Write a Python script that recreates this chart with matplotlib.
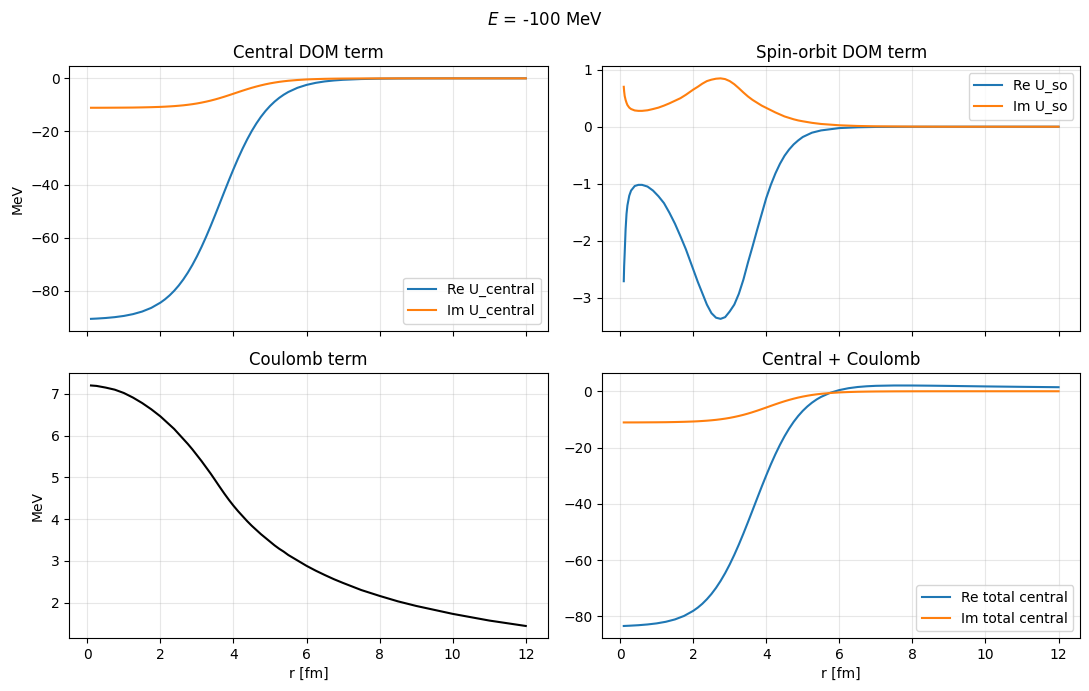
import matplotlib
matplotlib.use("Agg")
import matplotlib.pyplot as plt

# radial grid for central / Coulomb curves (fm)
r_c = [0.1, 0.25, 0.5, 0.75, 1.0, 1.25, 1.5, 1.75, 2.0, 2.125, 2.25, 2.375, 2.5, 2.625,
       2.75, 2.875, 3.0, 3.125, 3.25, 3.375, 3.5, 3.6, 3.75, 3.875, 4.0, 4.125, 4.25,
       4.375, 4.5, 4.625, 4.75, 4.875, 5.0, 5.125, 5.25, 5.375, 5.5, 5.75, 6.0, 6.25,
       6.5, 6.75, 7.0, 7.5, 8.0, 8.5, 9.0, 10.0, 11.0, 12.0]

re_central = [-90.63, -90.53, -90.31, -89.99, -89.53, -88.85, -87.88, -86.49, -84.52, -83.27,
              -81.80, -80.08, -78.09, -75.81, -73.22, -70.31, -67.07, -63.53, -59.71, -55.65,
              -51.41, -47.94, -42.70, -38.38, -34.20, -30.19, -26.45, -22.99, -19.84, -17.02,
              -14.51, -12.32, -10.41, -8.77, -7.36, -6.16, -5.14, -3.56, -2.46, -1.69,
              -1.15, -0.79, -0.54, -0.25, -0.12, -0.054, -0.025, -0.005, -0.001, 0.0]
im_central = [-11.08, -11.08, -11.07, -11.05, -11.03, -11.00, -10.94, -10.86, -10.75, -10.67,
              -10.57, -10.46, -10.32, -10.16, -9.96, -9.73, -9.46, -9.14, -8.78, -8.38,
              -7.93, -7.54, -6.91, -6.35, -5.78, -5.20, -4.63, -4.08, -3.56, -3.08,
              -2.64, -2.24, -1.89, -1.59, -1.32, -1.10, -0.91, -0.62, -0.41, -0.277,
              -0.18, -0.122, -0.08, -0.035, -0.015, -0.006, -0.003, 0.0, 0.0, 0.0]

coulomb = [7.20, 7.19, 7.15, 7.10, 7.02, 6.91, 6.78, 6.63, 6.46, 6.36,
           6.26, 6.16, 6.04, 5.92, 5.80, 5.67, 5.53, 5.39, 5.24, 5.09,
           4.93, 4.80, 4.61, 4.46, 4.32, 4.19, 4.07, 3.95, 3.84, 3.74,
           3.64, 3.55, 3.46, 3.37, 3.29, 3.22, 3.14, 3.01, 2.88, 2.765,
           2.66, 2.56, 2.47, 2.30, 2.16, 2.03, 1.92, 1.73, 1.57, 1.44]

re_total = [-83.43, -83.34, -83.16, -82.89, -82.51, -81.94, -81.10, -79.86, -78.06, -76.91,
            -75.54, -73.92, -72.05, -69.89, -67.42, -64.64, -61.54, -58.14, -54.47, -50.56,
            -46.48, -43.14, -38.09, -33.92, -29.88, -26.00, -22.38, -19.04, -16.00, -13.28,
            -10.87, -8.77, -6.95, -5.40, -4.07, -2.94, -2.00, -0.55, 0.42, 1.08,
            1.51, 1.77, 1.93, 2.05, 2.04, 1.98, 1.90, 1.72, 1.57, 1.44]
im_total = [-11.08, -11.08, -11.07, -11.05, -11.03, -11.00, -10.94, -10.86, -10.75, -10.67,
            -10.57, -10.46, -10.32, -10.16, -9.96, -9.73, -9.46, -9.14, -8.78, -8.38,
            -7.93, -7.54, -6.91, -6.35, -5.78, -5.20, -4.63, -4.08, -3.56, -3.08,
            -2.64, -2.24, -1.89, -1.59, -1.32, -1.10, -0.91, -0.62, -0.41, -0.277,
            -0.18, -0.122, -0.08, -0.035, -0.015, -0.006, -0.003, 0.0, 0.0, 0.0]

# spin-orbit needs a finer grid near the origin
r_so = [0.1, 0.11, 0.125, 0.15, 0.175, 0.2, 0.25, 0.3, 0.4, 0.5,
        0.6, 0.75, 0.9, 1.05, 1.2, 1.35, 1.5, 1.65, 1.8, 2.0,
        2.125, 2.25, 2.375, 2.5, 2.625, 2.75, 2.875, 3.0, 3.125, 3.25,
        3.375, 3.5, 3.625, 3.75, 3.875, 4.0, 4.125, 4.25, 4.375, 4.5,
        4.625, 4.75, 4.875, 5.0, 5.25, 5.5, 6.0, 6.5, 7.0, 8.0,
        9.0, 10.0, 11.0, 12.0]
re_so = [-2.71, -2.45, -2.22, -1.80, -1.53, -1.38, -1.21, -1.12, -1.04, -1.02,
         -1.02, -1.05, -1.12, -1.22, -1.34, -1.51, -1.70, -1.92, -2.15, -2.50,
         -2.72, -2.92, -3.12, -3.27, -3.35, -3.37, -3.34, -3.24, -3.12, -2.93,
         -2.68, -2.38, -2.10, -1.81, -1.53, -1.25, -1.02, -0.82, -0.65, -0.51,
         -0.40, -0.31, -0.24, -0.18, -0.105, -0.065, -0.024, -0.010, -0.004, -0.001,
         0.0, 0.0, 0.0, 0.0]
im_so = [0.70, 0.62, 0.54, 0.47, 0.42, 0.38, 0.335, 0.31, 0.285, 0.278,
         0.278, 0.288, 0.31, 0.335, 0.37, 0.41, 0.455, 0.50, 0.56, 0.65,
         0.70, 0.755, 0.80, 0.825, 0.842, 0.848, 0.835, 0.80, 0.745, 0.675,
         0.60, 0.53, 0.47, 0.42, 0.37, 0.33, 0.29, 0.25, 0.215, 0.18,
         0.155, 0.13, 0.11, 0.095, 0.068, 0.048, 0.025, 0.013, 0.007, 0.002,
         0.0, 0.0, 0.0, 0.0]

energy = -100

fig, axs = plt.subplots(2, 2, figsize=(10.89, 6.91), dpi=100, sharex=True)
fig.subplots_adjust(left=0.0636, right=0.992, top=0.904, bottom=0.0767,
                    wspace=0.114, hspace=0.161)

ax = axs[0, 0]
ax.plot(r_c, re_central, label="Re U_central")
ax.plot(r_c, im_central, label="Im U_central")
ax.set_title("Central DOM term")
ax.set_ylabel("MeV")
ax.legend(loc="lower right")
ax.grid(alpha=0.3)

ax = axs[0, 1]
ax.plot(r_so, re_so, label="Re U_so")
ax.plot(r_so, im_so, label="Im U_so")
ax.set_title("Spin-orbit DOM term")
ax.legend(loc="upper right")
ax.grid(alpha=0.3)

ax = axs[1, 0]
ax.plot(r_c, coulomb, color="k")
ax.set_title("Coulomb term")
ax.set_ylabel("MeV")
ax.set_xlabel("r [fm]")
ax.grid(alpha=0.3)

ax = axs[1, 1]
ax.plot(r_c, re_total, label="Re total central")
ax.plot(r_c, im_total, label="Im total central")
ax.set_title("Central + Coulomb")
ax.set_xlabel("r [fm]")
ax.legend(loc="lower right")
ax.grid(alpha=0.3)

fig.suptitle(f"$E$ = {energy} MeV", y=0.984)
fig.savefig("out.png")
